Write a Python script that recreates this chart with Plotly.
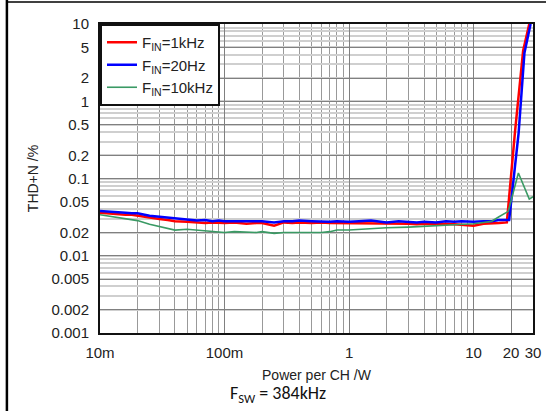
import plotly.graph_objects as go

# Power per channel (W) and THD+N (%)
p_1k = [0.01, 0.012, 0.014, 0.016, 0.018, 0.02, 0.025, 0.03, 0.035, 0.04, 0.05, 0.06, 0.07, 0.08, 0.09,
        0.1, 0.12, 0.15, 0.18, 0.2, 0.25, 0.3, 0.35, 0.4, 0.5, 0.6, 0.7, 0.8, 1, 1.2, 1.5, 1.8, 2, 2.5,
        3, 3.5, 4, 5, 6, 7, 8, 10, 12, 14, 16, 18.5, 21.5, 25, 28]
thd_1k = [0.036, 0.035, 0.034, 0.034, 0.034, 0.033, 0.031, 0.030, 0.029, 0.028, 0.0275, 0.027, 0.0265, 0.027, 0.0265,
          0.0265, 0.027, 0.026, 0.0265, 0.0265, 0.0245, 0.027, 0.0265, 0.027, 0.0265, 0.027, 0.0265, 0.0265, 0.026, 0.0265, 0.026, 0.0265, 0.026, 0.0265,
          0.026, 0.0255, 0.026, 0.0255, 0.026, 0.0255, 0.025, 0.0245, 0.026, 0.026, 0.0265, 0.027, 0.4, 4.5, 10]

p_20 = [0.01, 0.012, 0.014, 0.016, 0.018, 0.02, 0.025, 0.03, 0.035, 0.04, 0.05, 0.06, 0.07, 0.08, 0.09,
        0.1, 0.12, 0.15, 0.18, 0.2, 0.25, 0.3, 0.35, 0.4, 0.5, 0.6, 0.7, 0.8, 1, 1.2, 1.5, 1.8, 2, 2.5,
        3, 3.5, 4, 5, 6, 7, 8, 10, 12, 14, 16, 19.3, 23, 25.6, 28.7]
thd_20 = [0.038, 0.037, 0.036, 0.036, 0.0355, 0.0355, 0.033, 0.032, 0.031, 0.030, 0.029, 0.0285, 0.029, 0.028, 0.0285,
          0.028, 0.028, 0.028, 0.0275, 0.028, 0.027, 0.028, 0.028, 0.0285, 0.028, 0.0275, 0.0275, 0.028, 0.0275, 0.028, 0.0285, 0.0275, 0.027, 0.028,
          0.0275, 0.027, 0.0275, 0.027, 0.028, 0.0275, 0.028, 0.0275, 0.028, 0.028, 0.029, 0.029, 0.39, 4.2, 10]

p_10k = [0.01, 0.012, 0.014, 0.016, 0.018, 0.02, 0.025, 0.03, 0.035, 0.04, 0.05, 0.06, 0.07, 0.08, 0.09,
         0.1, 0.12, 0.15, 0.18, 0.2, 0.25, 0.3, 0.4, 0.5, 0.6, 0.7, 0.8, 1, 1.2, 1.5, 2, 3, 4, 5, 6, 8,
         10, 12, 14, 16, 19, 22.9, 28, 30]
thd_10k = [0.034, 0.0325, 0.031, 0.030, 0.029, 0.0285, 0.0255, 0.024, 0.0225, 0.0215, 0.022, 0.0215, 0.021, 0.0205, 0.020,
           0.020, 0.0205, 0.020, 0.020, 0.0205, 0.0195, 0.020, 0.020, 0.020, 0.020, 0.0205, 0.0215, 0.0215, 0.022, 0.0225, 0.023, 0.0235, 0.024, 0.0245, 0.025, 0.0255,
           0.026, 0.027, 0.028, 0.032, 0.0376, 0.118, 0.054, 0.058]

x_tickvals = [0.01, 0.1, 1, 10, 20, 30]
x_ticktext = ["10m", "100m", "1", "10", "20", "30"]
y_tickvals = [0.001, 0.002, 0.005, 0.01, 0.02, 0.05, 0.1, 0.2, 0.5, 1, 2, 5, 10]
y_ticktext = ["0.001", "0.002", "0.005", "0.01", "0.02", "0.05", "0.1", "0.2", "0.5", "1", "2", "5", "10"]

fig = go.Figure()
fig.add_trace(go.Scatter(x=p_1k, y=thd_1k, mode="lines", name="F<sub>IN</sub>=1kHz",
                         line=dict(color="#ff0000", width=2.5)))
fig.add_trace(go.Scatter(x=p_20, y=thd_20, mode="lines", name="F<sub>IN</sub>=20Hz",
                         line=dict(color="#0000ff", width=2.5)))
fig.add_trace(go.Scatter(x=p_10k, y=thd_10k, mode="lines", name="F<sub>IN</sub>=10kHz",
                         line=dict(color="#3a9a64", width=1.6)))

tick_font = dict(family="Liberation Sans, Arial, sans-serif", size=15, color="#222")
title_font = dict(family="Liberation Sans, Arial, sans-serif", size=14, color="#222")

fig.update_layout(
    width=553, height=411,
    margin=dict(l=100, r=18, t=24, b=78),
    paper_bgcolor="white", plot_bgcolor="white",
    font=tick_font,
    showlegend=True,
    legend=dict(x=0, y=1, xanchor="left", yanchor="top", bgcolor="white",
                bordercolor="#111", borderwidth=2,
                font=dict(family="Liberation Sans, Arial, sans-serif", size=15, color="#222"),
                itemwidth=30, tracegroupgap=0),
    xaxis=dict(type="log", range=[-2, 1.47712], tickvals=x_tickvals, ticktext=x_ticktext,
               showgrid=True, gridcolor="#808080", gridwidth=1,
               minor=dict(dtick="D1", showgrid=True, gridcolor="#999999", gridwidth=1),
               showline=True, linecolor="#111", linewidth=2, mirror=True, ticks="",
               ticklabelstandoff=5,
               zeroline=False, tickfont=tick_font,
               title=dict(text="Power per CH /W", standoff=10, font=title_font)),
    yaxis=dict(type="log", range=[-3, 1], tickvals=y_tickvals, ticktext=y_ticktext,
               showgrid=True, gridcolor="#808080", gridwidth=1,
               minor=dict(dtick="D1", showgrid=True, gridcolor="#cfcfcf", gridwidth=1.5),
               showline=True, linecolor="#111", linewidth=2, mirror=True, ticks="",
               ticklabelstandoff=6,
               zeroline=False, tickfont=tick_font,
               title=dict(text="THD+N /%", standoff=10, font=title_font)),
    annotations=[
        dict(text="F<sub>SW</sub> = 384kHz", xref="paper", yref="paper", x=0.41, y=-0.197,
             xanchor="center", yanchor="middle", showarrow=False,
             font=dict(family="Carlito, Liberation Sans, sans-serif", size=18, color="#111")),
    ],
    shapes=[
        dict(type="line", xref="paper", yref="paper", x0=-0.215, x1=-0.215, y0=1.08, y1=-0.27,
             line=dict(color="black", width=2.5)),
        dict(type="line", xref="paper", yref="paper", x0=-0.215, x1=1.03, y0=1.071, y1=1.071,
             line=dict(color="black", width=1.5)),
    ],
)

fig.write_html("out.html")
